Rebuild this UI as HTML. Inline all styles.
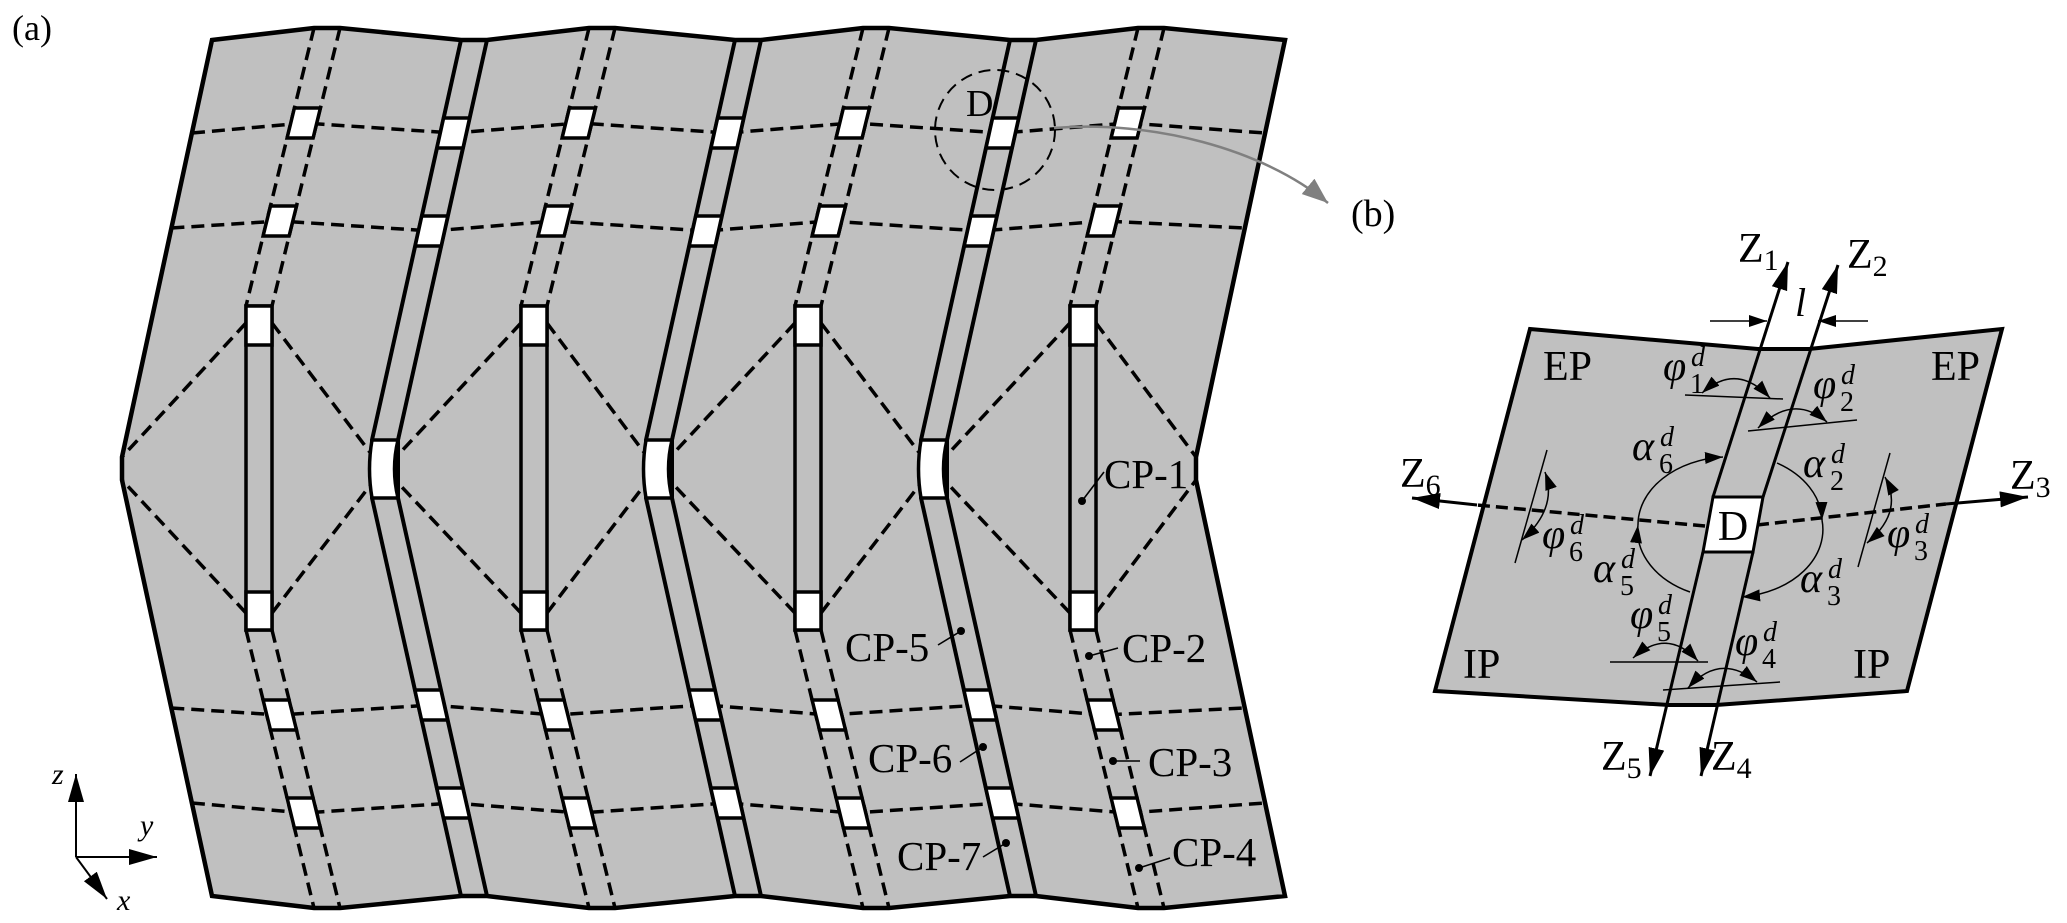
<!DOCTYPE html>
<html><head><meta charset="utf-8">
<style>
html,body{margin:0;padding:0;background:#fff;}
svg{display:block;}
text{font-family:"Liberation Serif","Times New Roman",serif;fill:#000;}
.it{font-style:italic;}
</style></head>
<body>
<svg width="2067" height="923" viewBox="0 0 2067 923" xmlns="http://www.w3.org/2000/svg">
<defs>
<marker id="ah" markerUnits="userSpaceOnUse" markerWidth="30" markerHeight="18" refX="28" refY="8" orient="auto"><path d="M0,0 L28,8 L0,16 z" fill="#000"/></marker>
<marker id="sa" markerUnits="userSpaceOnUse" markerWidth="20" markerHeight="14" refX="18" refY="6" orient="auto"><path d="M0,0 L18,6 L0,12 z" fill="#000"/></marker>
<marker id="sas" markerUnits="userSpaceOnUse" markerWidth="20" markerHeight="14" refX="18" refY="6" orient="auto-start-reverse"><path d="M0,0 L18,6 L0,12 z" fill="#000"/></marker>
<marker id="ga" markerUnits="userSpaceOnUse" markerWidth="30" markerHeight="24" refX="26" refY="10" orient="auto"><path d="M0,0 L26,10 L0,20 z" fill="#808080"/></marker>
</defs>

<!-- panel a sheet -->
<polygon points="212,40 314,28 340,28 461,40 487,40 589,28 615,28 735,40 761,40 863,28 889,28 1010,40 1036,40 1138,28 1164,28 1285,40 1196,457 1196,480 1285,896 1164,908 1138,908 1036,896 1010,896 889,908 863,908 761,896 735,896 615,908 589,908 487,896 461,896 340,908 314,908 212,896 122,480 122,457" fill="#c0c0c0"/>

<g fill="none" stroke="#000" stroke-width="3.5" stroke-dasharray="13 7">
<path d="M314,28 L246,306 M340,28 L272,306 M246,630 L314,908 M272,630 L340,908"/>
<path d="M589,28 L521,306 M615,28 L547,306 M521,630 L589,908 M547,630 L615,908"/>
<path d="M863,28 L795,306 M889,28 L821,306 M795,630 L863,908 M821,630 L889,908"/>
<path d="M1138,28 L1070,306 M1164,28 L1096,306 M1070,630 L1138,908 M1096,630 L1164,908"/>
<polyline points="192,133 303.8,123 453.3,133 578.8,123 727.3,133 852.8,123 1002.3,133 1127.8,123 1265,133"/>
<polyline points="171.4,228 279.8,221 431.5,231 554.8,221 705.5,231 828.8,221 980.5,231 1103.8,221 1244.9,228"/>
<polyline points="171.3,708 279.8,715 431.3,705 554.8,715 705.3,705 828.8,715 980.3,705 1103.8,715 1244.8,708"/>
<polyline points="191.9,803 303.8,813 453.2,803 578.8,813 727.2,803 852.8,813 1002.2,803 1127.8,813 1265.1,803"/>
<path d="M246,323 L122,457 M246,613 L122,480 M272,323 L372,455 M272,613 L372,483"/>
<path d="M521,323 L398,455 M521,613 L398,483 M547,323 L646,455 M547,613 L646,483"/>
<path d="M795,323 L672,455 M795,613 L672,483 M821,323 L921,455 M821,613 L921,483"/>
<path d="M1070,323 L947,455 M1070,613 L947,483 M1096,323 L1196,457 M1096,613 L1196,480"/>
</g>

<g fill="none" stroke="#000" stroke-width="4">
<polyline points="461,40 372,440 372,498 461,896"/>
<polyline points="487,40 398,440 398,498 487,896"/>
<polyline points="735,40 646,440 646,498 735,896"/>
<polyline points="761,40 672,440 672,498 761,896"/>
<polyline points="1010,40 921,440 921,498 1010,896"/>
<polyline points="1036,40 947,440 947,498 1036,896"/>
</g>

<g fill="#fff" stroke="#000" stroke-width="3.5">
<polygon points="294.4,108 320.4,108 313.1,138 287.1,138"/>
<polygon points="569.4,108 595.4,108 588.1,138 562.1,138"/>
<polygon points="843.4,108 869.4,108 862.1,138 836.1,138"/>
<polygon points="1118.4,108 1144.4,108 1137.1,138 1111.1,138"/>
<polygon points="270.5,206 296.5,206 289.1,236 263.1,236"/>
<polygon points="545.5,206 571.5,206 564.1,236 538.1,236"/>
<polygon points="819.5,206 845.5,206 838.1,236 812.1,236"/>
<polygon points="1094.5,206 1120.5,206 1113.1,236 1087.1,236"/>
<polygon points="263.1,700 289.1,700 296.5,730 270.5,730"/>
<polygon points="538.1,700 564.1,700 571.5,730 545.5,730"/>
<polygon points="812.1,700 838.1,700 845.5,730 819.5,730"/>
<polygon points="1087.1,700 1113.1,700 1120.5,730 1094.5,730"/>
<polygon points="287.1,798 313.1,798 320.4,828 294.4,828"/>
<polygon points="562.1,798 588.1,798 595.4,828 569.4,828"/>
<polygon points="836.1,798 862.1,798 869.4,828 843.4,828"/>
<polygon points="1111.1,798 1137.1,798 1144.4,828 1118.4,828"/>
<polygon points="443.6,118 469.6,118 463,148 437,148"/>
<polygon points="717.6,118 743.6,118 737,148 711,148"/>
<polygon points="992.6,118 1018.6,118 1012,148 986,148"/>
<polygon points="421.8,216 447.8,216 441.2,246 415.2,246"/>
<polygon points="695.8,216 721.8,216 715.2,246 689.2,246"/>
<polygon points="970.8,216 996.8,216 990.2,246 964.2,246"/>
<polygon points="414.9,690 440.9,690 447.6,720 421.6,720"/>
<polygon points="688.9,690 714.9,690 721.6,720 695.6,720"/>
<polygon points="963.9,690 989.9,690 996.6,720 970.6,720"/>
<polygon points="436.8,788 462.8,788 469.6,818 443.6,818"/>
<polygon points="710.8,788 736.8,788 743.6,818 717.6,818"/>
<polygon points="985.8,788 1011.8,788 1018.6,818 992.6,818"/>
<path d="M372,440 L398,440 Q391,469 398,498 L372,498 Q367,469 372,440 Z"/>
<path d="M646,440 L672,440 Q665,469 672,498 L646,498 Q641,469 646,440 Z"/>
<path d="M921,440 L947,440 Q940,469 947,498 L921,498 Q916,469 921,440 Z"/>
</g>
<g stroke="#000" stroke-width="3.5">
<rect x="246" y="306" width="26" height="324" fill="none"/>
<rect x="521" y="306" width="26" height="324" fill="none"/>
<rect x="795" y="306" width="26" height="324" fill="none"/>
<rect x="1070" y="306" width="26" height="324" fill="none"/>
<g fill="#fff">
<rect x="246" y="306" width="26" height="39"/><rect x="246" y="592" width="26" height="38"/>
<rect x="521" y="306" width="26" height="39"/><rect x="521" y="592" width="26" height="38"/>
<rect x="795" y="306" width="26" height="39"/><rect x="795" y="592" width="26" height="38"/>
<rect x="1070" y="306" width="26" height="39"/><rect x="1070" y="592" width="26" height="38"/>
</g>
</g>
<polygon points="212,40 314,28 340,28 461,40 487,40 589,28 615,28 735,40 761,40 863,28 889,28 1010,40 1036,40 1138,28 1164,28 1285,40 1196,457 1196,480 1285,896 1164,908 1138,908 1036,896 1010,896 889,908 863,908 761,896 735,896 615,908 589,908 487,896 461,896 340,908 314,908 212,896 122,480 122,457" fill="none" stroke="#000" stroke-width="4.5"/>

<g>
<text x="12" y="40" font-size="36">(a)</text>
<text x="966" y="116" font-size="38">D</text>
<ellipse cx="995" cy="130" rx="60" ry="60" fill="none" stroke="#000" stroke-width="2" stroke-dasharray="12 7"/>
<path d="M1054,128 C1150,120 1262,148 1328,203" fill="none" stroke="#808080" stroke-width="2.5" marker-end="url(#ga)"/>
<line x1="76" y1="857" x2="76" y2="774" stroke="#000" stroke-width="2" marker-end="url(#ah)"/>
<line x1="76" y1="857" x2="157" y2="857" stroke="#000" stroke-width="2" marker-end="url(#ah)"/>
<line x1="76" y1="857" x2="107" y2="899" stroke="#000" stroke-width="2" marker-end="url(#ah)"/>
<text x="52" y="784" font-size="30" class="it">z</text>
<text x="140" y="835" font-size="30" class="it">y</text>
<text x="117" y="910" font-size="30" class="it">x</text>
<g font-size="41">
<text x="1104" y="488">CP-1</text>
<text x="845" y="661">CP-5</text>
<text x="1122" y="662">CP-2</text>
<text x="868" y="772">CP-6</text>
<text x="1148" y="776">CP-3</text>
<text x="897" y="870">CP-7</text>
<text x="1172" y="866">CP-4</text>
</g>
<g stroke="#000" stroke-width="1.6">
<line x1="1104" y1="472" x2="1082" y2="501"/>
<line x1="938" y1="645" x2="961" y2="631"/>
<line x1="1118" y1="648" x2="1089" y2="656"/>
<line x1="960" y1="762" x2="983" y2="747"/>
<line x1="1140" y1="761" x2="1113" y2="761"/>
<line x1="983" y1="857" x2="1006" y2="843"/>
<line x1="1170" y1="858" x2="1139" y2="868"/>
</g>
<g fill="#000">
<circle cx="1082" cy="501" r="4"/><circle cx="961" cy="631" r="4"/><circle cx="1089" cy="656" r="4"/>
<circle cx="983" cy="747" r="4"/><circle cx="1113" cy="761" r="4"/><circle cx="1006" cy="843" r="4"/><circle cx="1139" cy="868" r="4"/>
</g>
</g>

<!-- panel b -->
<g>
<text x="1351" y="226" font-size="38">(b)</text>
<polygon points="1530,329 1758,349 1809,349 2002,329 1907,691 1716,705 1669,705 1435,691" fill="#c0c0c0" stroke="#000" stroke-width="4"/>
<line x1="1705" y1="526" x2="1477" y2="505" stroke="#000" stroke-width="3.5" stroke-dasharray="12 6"/>
<line x1="1477" y1="505" x2="1412" y2="498" stroke="#000" stroke-width="3" marker-end="url(#ah)"/>
<line x1="1757" y1="525" x2="1946" y2="504" stroke="#000" stroke-width="3.5" stroke-dasharray="12 6"/>
<line x1="1946" y1="504" x2="2028" y2="497" stroke="#000" stroke-width="3" marker-end="url(#ah)"/>
<line x1="1713" y1="497" x2="1788" y2="262" stroke="#000" stroke-width="3" marker-end="url(#ah)"/>
<line x1="1763" y1="497" x2="1838" y2="265" stroke="#000" stroke-width="3" marker-end="url(#ah)"/>
<line x1="1703" y1="552" x2="1650" y2="776" stroke="#000" stroke-width="3" marker-end="url(#ah)"/>
<line x1="1753" y1="552" x2="1701" y2="776" stroke="#000" stroke-width="3" marker-end="url(#ah)"/>
<polygon points="1713,497 1763,497 1753,552 1703,552" fill="#fff" stroke="#000" stroke-width="3"/>
<text x="1733" y="540" font-size="42" text-anchor="middle">D</text>
<line x1="1710" y1="321" x2="1767" y2="321" stroke="#000" stroke-width="1.6" marker-end="url(#sa)"/>
<line x1="1868" y1="321" x2="1818" y2="321" stroke="#000" stroke-width="1.6" marker-end="url(#sa)"/>
<text x="1795" y="316" font-size="40" class="it">l</text>
<g stroke="#000" stroke-width="1.5" fill="none">
<line x1="1685" y1="395" x2="1783" y2="399"/>
<line x1="1748" y1="431" x2="1857" y2="420"/>
<line x1="1547" y1="450" x2="1515" y2="563"/>
<line x1="1890" y1="453" x2="1858" y2="567"/>
<line x1="1610" y1="662" x2="1708" y2="662"/>
<line x1="1663" y1="690" x2="1780" y2="682"/>
<path d="M1702,393 Q1737,362 1770,398" marker-start="url(#sas)" marker-end="url(#sas)"/>
<path d="M1758,428 Q1793,393 1827,422" marker-start="url(#sas)" marker-end="url(#sas)"/>
<path d="M1545,472 Q1558,508 1522,540" marker-start="url(#sas)" marker-end="url(#sas)"/>
<path d="M1885,477 Q1904,512 1867,543" marker-start="url(#sas)" marker-end="url(#sas)"/>
<path d="M1633,658 Q1667,627 1698,661" marker-start="url(#sas)" marker-end="url(#sas)"/>
<path d="M1688,688 Q1720,652 1757,682" marker-start="url(#sas)" marker-end="url(#sas)"/>
<path d="M1690,592 A92,68 0 0,1 1638,525" marker-end="url(#sa)"/>
<path d="M1638,525 A92,68 0 0,1 1723,457" marker-end="url(#sa)"/>
<path d="M1777,463 A92,68 0 0,1 1822,520" marker-end="url(#sa)"/>
<path d="M1822,520 A92,68 0 0,1 1742,597" marker-end="url(#sa)"/>
</g>
<g font-size="42">
<text x="1738" y="262">Z<tspan font-size="30" dy="8">1</tspan></text>
<text x="1847" y="268">Z<tspan font-size="30" dy="8">2</tspan></text>
<text x="1400" y="487">Z<tspan font-size="30" dy="8">6</tspan></text>
<text x="2010" y="489">Z<tspan font-size="30" dy="8">3</tspan></text>
<text x="1601" y="770">Z<tspan font-size="30" dy="8">5</tspan></text>
<text x="1711" y="770">Z<tspan font-size="30" dy="8">4</tspan></text>
<text x="1543" y="380">EP</text>
<text x="1931" y="380">EP</text>
<text x="1463" y="678">IP</text>
<text x="1853" y="678">IP</text>
</g>
<g font-size="42" class="it">
<text x="1663" y="380">φ</text><text x="1691" y="366" font-size="28">d</text><text x="1690" y="393" font-size="28" font-style="normal">1</text>
<text x="1813" y="398">φ</text><text x="1841" y="384" font-size="28">d</text><text x="1840" y="411" font-size="28" font-style="normal">2</text>
<text x="1632" y="460">α</text><text x="1660" y="446" font-size="28">d</text><text x="1659" y="473" font-size="28" font-style="normal">6</text>
<text x="1803" y="477">α</text><text x="1831" y="463" font-size="28">d</text><text x="1830" y="490" font-size="28" font-style="normal">2</text>
<text x="1593" y="582">α</text><text x="1621" y="568" font-size="28">d</text><text x="1620" y="595" font-size="28" font-style="normal">5</text>
<text x="1800" y="592">α</text><text x="1828" y="578" font-size="28">d</text><text x="1827" y="605" font-size="28" font-style="normal">3</text>
<text x="1542" y="548">φ</text><text x="1570" y="534" font-size="28">d</text><text x="1569" y="561" font-size="28" font-style="normal">6</text>
<text x="1887" y="547">φ</text><text x="1915" y="533" font-size="28">d</text><text x="1914" y="560" font-size="28" font-style="normal">3</text>
<text x="1630" y="628">φ</text><text x="1658" y="614" font-size="28">d</text><text x="1657" y="641" font-size="28" font-style="normal">5</text>
<text x="1735" y="655">φ</text><text x="1763" y="641" font-size="28">d</text><text x="1762" y="668" font-size="28" font-style="normal">4</text>
</g>
</g>
</svg>
</body></html>
